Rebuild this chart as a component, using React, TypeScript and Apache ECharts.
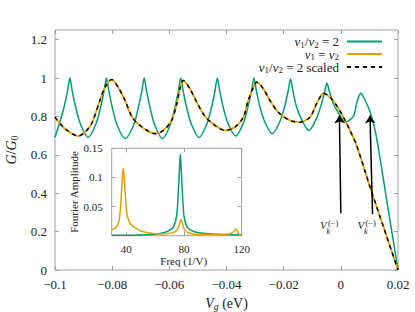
import React, { useEffect, useRef } from "react";
import * as echarts from "echarts";

const FONT = "'Liberation Serif', 'DejaVu Serif', serif";
const GREEN = "#009e73";
const ORANGE = "#e69f00";
const FRAME = "#a0a0a0";
const TEXT = "#222";

const seriesNames = ["v1/v2 = 2", "v1 = v2", "v1/v2 = 2 scaled"];

// main panel: G/G0 vs Vg (eV)
const greenMain: [number, number][] = [
  [-0.1, 0.692], [-0.0985, 0.76], [-0.0968, 0.85], [-0.0956, 0.935], [-0.0948, 1.0],
  [-0.094, 0.935], [-0.0928, 0.85], [-0.0911, 0.76], [-0.0884, 0.69],
  [-0.0857, 0.76], [-0.084, 0.85], [-0.0828, 0.935], [-0.082, 1.0],
  [-0.0812, 0.935], [-0.08, 0.85], [-0.0783, 0.755], [-0.0754, 0.684],
  [-0.0725, 0.755], [-0.0708, 0.85], [-0.0696, 0.935], [-0.0688, 1.0],
  [-0.068, 0.935], [-0.0668, 0.85], [-0.0651, 0.755], [-0.0624, 0.684],
  [-0.0597, 0.755], [-0.058, 0.85], [-0.0568, 0.935], [-0.056, 1.0],
  [-0.0552, 0.935], [-0.054, 0.85], [-0.0523, 0.76], [-0.0496, 0.69],
  [-0.0469, 0.76], [-0.0452, 0.85], [-0.044, 0.935], [-0.0432, 1.0],
  [-0.0424, 0.935], [-0.0412, 0.85], [-0.0395, 0.765], [-0.0368, 0.698],
  [-0.0341, 0.765], [-0.0324, 0.855], [-0.0312, 0.937], [-0.0304, 1.0],
  [-0.0296, 0.937], [-0.0284, 0.855], [-0.0267, 0.775], [-0.024, 0.71],
  [-0.0213, 0.775], [-0.0196, 0.855], [-0.0184, 0.935], [-0.0176, 0.995],
  [-0.0168, 0.935], [-0.0156, 0.855], [-0.0139, 0.79], [-0.0112, 0.727],
  [-0.0085, 0.79], [-0.0068, 0.865], [-0.0057, 0.925], [-0.00485, 0.973],
  [-0.004, 0.93], [-0.0026, 0.866], [-0.0003, 0.805], [0.0015, 0.77],
  [0.0044, 0.8], [0.0055, 0.866], [0.0062, 0.9], [0.0069, 0.921],
  [0.0078, 0.905], [0.0096, 0.848], [0.0108, 0.796], [0.0125, 0.69],
  [0.0162, 0.35], [0.02, 0.0],
];

const orangeMain: [number, number][] = [
  [-0.1, 0.796], [-0.0965, 0.736], [-0.0918, 0.698], [-0.0895, 0.718],
  [-0.0872, 0.762], [-0.0843, 0.883], [-0.0825, 0.952], [-0.0802, 0.992],
  [-0.0779, 0.952], [-0.0755, 0.883], [-0.073, 0.796], [-0.0703, 0.753],
  [-0.0668, 0.718], [-0.065, 0.71], [-0.0621, 0.727], [-0.0592, 0.779],
  [-0.0574, 0.866], [-0.0563, 0.944], [-0.0551, 0.987], [-0.0528, 0.944],
  [-0.0504, 0.874], [-0.0475, 0.8], [-0.044, 0.753], [-0.0405, 0.727],
  [-0.037, 0.745], [-0.0341, 0.796], [-0.0324, 0.883], [-0.0306, 0.952],
  [-0.0294, 0.978], [-0.0271, 0.944], [-0.0248, 0.883], [-0.0219, 0.822],
  [-0.0178, 0.779], [-0.0143, 0.77], [-0.0108, 0.796], [-0.0085, 0.866],
  [-0.0067, 0.914], [-0.0061, 0.921], [-0.0038, 0.9], [-0.0015, 0.857],
  [0.0009, 0.796], [0.0032, 0.727], [0.0055, 0.65], [0.0104, 0.424],
  [0.0152, 0.212], [0.02, 0.0],
];

// scaled curve coincides with v1 = v2
const scaledMain: [number, number][] = orangeMain;

const xTicks = [-0.1, -0.08, -0.06, -0.04, -0.02, 0, 0.02];
const yTicks = [0, 0.2, 0.4, 0.6, 0.8, 1, 1.2];

// inset: Fourier amplitude vs Freq (1/V)
const orangeFourier: [number, number][] = [
  [30, 0.01], [33, 0.014], [35, 0.025], [36, 0.045], [37, 0.085], [37.5, 0.105],
  [38, 0.1156], [38.5, 0.105], [39, 0.085], [40, 0.05], [41, 0.032], [43, 0.02],
  [46, 0.014], [50, 0.008], [55, 0.005], [60, 0.0035], [65, 0.003], [70, 0.004],
  [74, 0.007], [76, 0.013], [77, 0.021], [78, 0.028], [79, 0.021], [80, 0.012],
  [82, 0.006], [86, 0.003], [95, 0.002], [105, 0.002], [111, 0.003], [114, 0.006],
  [115, 0.009], [116, 0.0114], [117, 0.008], [118, 0.003], [119, 0.001], [120, 0.0005],
];
const greenFourier: [number, number][] = [
  [30, 0.0008], [50, 0.0012], [60, 0.0025], [66, 0.005], [70, 0.009], [73, 0.016],
  [75, 0.035], [76, 0.07], [77, 0.12], [77.5, 0.14], [78, 0.12], [79, 0.07],
  [80, 0.035], [82, 0.016], [85, 0.009], [90, 0.005], [100, 0.003], [110, 0.002],
  [120, 0.0015],
];
const insetXTicks = [40, 80, 120];
const insetYTicks = [0.05, 0.1, 0.15];

// arrows (data coordinates: from -> to) and their label anchors
const arrowFrom: [number, number][] = [[0, 0.295], [0.0111, 0.291]];
const arrowTo: [number, number][] = [[-0.0005, 0.805], [0.0102, 0.805]];
const arrowLabelAt: [number, number][] = [[-0.0073, 0.234], [0.0058, 0.234]];

const legendRich = [
  "{i|v}{s|1}{n|/}{i|v}{s|2}{n| = 2}{g|}",
  "{i|v}{s|1}{n| = }{i|v}{s|2}{g|}",
  "{i|v}{s|1}{n|/}{i|v}{s|2}{n| = 2 scaled}{g|}",
];
const legendTops = [34, 46.5, 59.5];

const fmtMain = (v: number) => {
  const r = +v.toFixed(3);
  return (r < 0 ? "\u2212" : "") + String(Math.abs(r));
};

export default function App() {
  const ref = useRef<HTMLDivElement>(null);
  useEffect(() => {
    if (!ref.current) return;
    const chart = echarts.init(ref.current, null, { renderer: "svg" });
    const tick = (vals: number[]) => ({
      show: true,
      inside: true,
      length: 4,
      customValues: vals,
      lineStyle: { color: FRAME, width: 1 },
    });
    const noLine = { show: false, onZero: false };
    const richBase = (size: number) => {
      const sub = Math.round(size * 0.7);
      const lh = Math.round(size * 0.9);
      return {
        i: { fontFamily: FONT, fontStyle: "italic", fontSize: size, color: TEXT, lineHeight: lh },
        n: { fontFamily: FONT, fontSize: size, color: TEXT, lineHeight: lh },
        s: { fontFamily: FONT, fontSize: sub, color: TEXT, lineHeight: lh - 6, padding: [6, 0, 0, 0] },
        si: { fontFamily: FONT, fontStyle: "italic", fontSize: sub, color: TEXT, lineHeight: lh - 6, padding: [6, 0, 0, 0] },
        g: { width: 3, lineHeight: lh },
      };
    };
    const option: any = {
      animation: false,
      backgroundColor: "#fff",
      textStyle: { fontFamily: FONT },
      grid: [
        { left: 55, top: 30, right: 17, bottom: 42, outerBoundsMode: "none", containLabel: false, show: true, borderColor: FRAME, borderWidth: 1, backgroundColor: "transparent" },
        { left: 111.7, top: 148.3, width: 130, height: 87.4, outerBoundsMode: "none", containLabel: false, show: true, borderColor: FRAME, borderWidth: 1, backgroundColor: "#fff" },
      ],
      xAxis: [
        {
          type: "value", gridIndex: 0, position: "bottom", min: -0.1, max: 0.02,
          axisLine: noLine, splitLine: { show: false }, axisTick: tick(xTicks),
          axisLabel: { customValues: xTicks, formatter: fmtMain, fontFamily: FONT, fontSize: 13, color: TEXT, margin: 8 },
          name: "{i|V}{si|g}{n| (eV)}", nameLocation: "middle", nameGap: 24,
          nameTextStyle: { rich: richBase(14) },
        },
        {
          type: "value", gridIndex: 0, position: "top", min: -0.1, max: 0.02,
          axisLine: noLine, splitLine: { show: false }, axisTick: tick(xTicks),
          axisLabel: { show: false },
        },
        {
          type: "value", gridIndex: 1, position: "bottom", min: 30, max: 120,
          axisLine: noLine, splitLine: { show: false }, axisTick: tick(insetXTicks),
          axisLabel: { customValues: insetXTicks, fontFamily: FONT, fontSize: 11, color: TEXT, margin: 8 },
          name: "Freq (1/V)", nameLocation: "middle", nameGap: 18,
          nameTextStyle: { fontFamily: FONT, fontSize: 11, color: TEXT, padding: [0, 0, 0, 14] },
        },
        {
          type: "value", gridIndex: 1, position: "top", min: 30, max: 120,
          axisLine: noLine, splitLine: { show: false }, axisTick: tick(insetXTicks),
          axisLabel: { show: false },
        },
      ],
      yAxis: [
        {
          type: "value", gridIndex: 0, position: "left", min: 0, max: 1.25,
          axisLine: noLine, splitLine: { show: false }, axisTick: tick(yTicks),
          axisLabel: { customValues: yTicks, fontFamily: FONT, fontSize: 13, color: TEXT, margin: 8 },
          name: "{i|G}{n|/}{i|G}{s|0}", nameLocation: "middle", nameGap: 37,
          nameTextStyle: { rich: richBase(14) },
        },
        {
          type: "value", gridIndex: 0, position: "right", min: 0, max: 1.25,
          axisLine: noLine, splitLine: { show: false }, axisTick: tick(yTicks),
          axisLabel: { show: false },
        },
        {
          type: "value", gridIndex: 1, position: "left", min: 0, max: 0.15,
          axisLine: noLine, splitLine: { show: false }, axisTick: tick(insetYTicks),
          axisLabel: { customValues: insetYTicks, fontFamily: FONT, fontSize: 11, color: TEXT, margin: 9 },
          name: "Fourier Amplitude", nameLocation: "middle", nameGap: 30,
          nameTextStyle: { fontFamily: FONT, fontSize: 11, color: TEXT },
        },
        {
          type: "value", gridIndex: 1, position: "right", min: 0, max: 0.15,
          axisLine: noLine, splitLine: { show: false }, axisTick: tick(insetYTicks),
          axisLabel: { show: false },
        },
      ],
      legend: seriesNames.map((n, i) => ({
        data: [n],
        right: 32,
        top: legendTops[i],
        align: "right",
        orient: "horizontal",
        padding: 0,
        itemWidth: 35,
        itemHeight: 12,
        selectedMode: false,
        itemStyle: { opacity: 0 },
        formatter: () => legendRich[i],
        textStyle: { fontFamily: FONT, fontSize: 13, color: TEXT, rich: richBase(13) },
      })),
      series: [
        {
          name: seriesNames[0], type: "line", xAxisIndex: 0, yAxisIndex: 0,
          data: greenMain, symbol: "none", smooth: 0.3, silent: true,
          lineStyle: { color: GREEN, width: 1.5 }, itemStyle: { color: GREEN }, z: 2,
        },
        {
          name: seriesNames[1], type: "line", xAxisIndex: 0, yAxisIndex: 0,
          data: orangeMain, symbol: "none", smooth: 0.3, silent: true,
          lineStyle: { color: ORANGE, width: 1.8 }, itemStyle: { color: ORANGE }, z: 3,
        },
        {
          name: seriesNames[2], type: "line", xAxisIndex: 0, yAxisIndex: 0,
          data: scaledMain, symbol: "none", smooth: 0.3, silent: true,
          lineStyle: { color: "#000", width: 1.5, type: [4, 4] }, itemStyle: { color: "#000" }, z: 4,
          markLine: {
            silent: true,
            symbol: ["none", "arrow"],
            symbolSize: 8,
            label: { show: false },
            lineStyle: { color: "#000", width: 1.5, type: "solid" },
            emphasis: { disabled: true },
            data: arrowFrom.map((f, i) => [{ coord: f }, { coord: arrowTo[i] }]),
          },
        },
        {
          name: "fourier-green", type: "line", xAxisIndex: 2, yAxisIndex: 2,
          data: greenFourier, symbol: "none", smooth: 0.3, silent: true,
          lineStyle: { color: GREEN, width: 1.5 }, z: 5,
        },
        {
          name: "fourier-orange", type: "line", xAxisIndex: 2, yAxisIndex: 2,
          data: orangeFourier, symbol: "none", smooth: 0.3, silent: true,
          lineStyle: { color: ORANGE, width: 1.5 }, z: 6,
        },
      ],
    };
    chart.setOption(option);
    const graphics: any[] = [];
    arrowLabelAt.forEach((p) => {
      const px = chart.convertToPixel({ xAxisIndex: 0, yAxisIndex: 0 }, p) as number[];
      graphics.push(
        { type: "text", x: px[0], y: px[1], style: { text: "V", fontFamily: FONT, fontStyle: "italic", fontSize: 11, fill: TEXT, verticalAlign: "middle", align: "left" } },
        { type: "text", x: px[0] + 8, y: px[1] - 2, style: { text: "(\u2212)", fontFamily: FONT, fontSize: 8.5, fill: TEXT, verticalAlign: "middle", align: "left" } },
        { type: "text", x: px[0] + 6.5, y: px[1] + 6.5, style: { text: "k", fontFamily: FONT, fontStyle: "italic", fontSize: 8, fill: TEXT, verticalAlign: "middle", align: "left" } },
      );
    });
    chart.setOption({ graphic: graphics });
    return () => chart.dispose();
  }, []);
  return <div ref={ref} style={{ position: "fixed", left: 0, top: 0, width: 415, height: 312 }} />;
}
